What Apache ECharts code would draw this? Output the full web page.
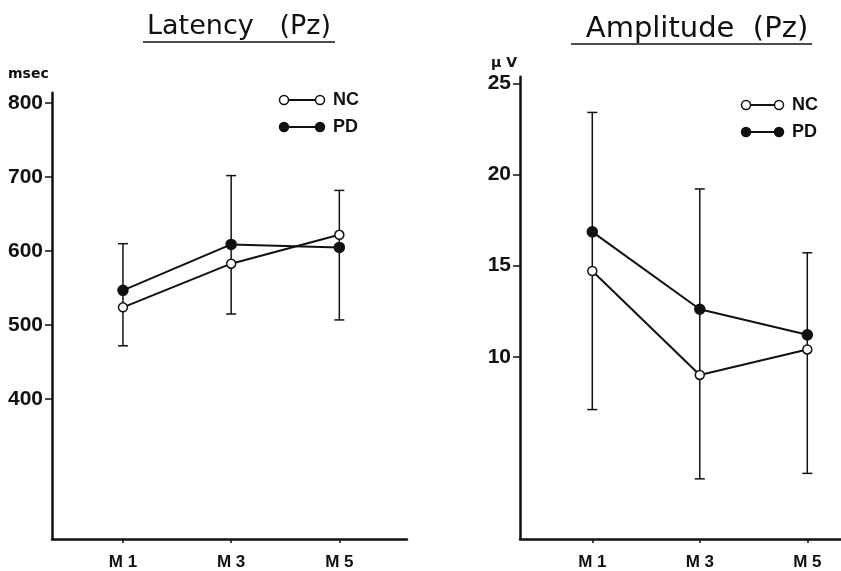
<!DOCTYPE html>
<html>
<head>
<meta charset="utf-8">
<script src="https://cdn.jsdelivr.net/npm/echarts@6/dist/echarts.min.js"></script>
<style>
  html, body { margin: 0; padding: 0; background: #fff; }
  #chart { width: 841px; height: 571px; }
</style>
</head>
<body>
<div id="chart"></div>
<script>
// months of measurement (M1, M3, M5)
var months = [1, 3, 5];

// Latency (Pz), msec
var latencyTicks = [400, 500, 600, 700, 800];
var latencyNC = [524, 583, 622];
var latencyPD = [547, 609, 605];
var latencyErrHigh = [610, 702, 682];
var latencyErrLow = [472, 515, 507];

// Amplitude (Pz), uV
var ampTicks = [10, 15, 20, 25];
var ampNC = [14.7, 9.0, 10.4];
var ampPD = [16.85, 12.6, 11.2];
var ampErrHigh = [23.4, 19.2, 15.7];
var ampErrLow = [7.1, 3.3, 3.6];

var INK = '#111';
var BOLDFONT = "'Liberation Sans', Arial, sans-serif";

function pairs(vals) {
  return months.map(function (m, i) { return [m, vals[i]]; });
}
function errData(lo, hi) {
  return months.map(function (m, i) { return [m, lo[i], hi[i]]; });
}

// vertical bar with caps
function errorBarItem(params, api) {
  var x = api.value(0);
  var top = api.coord([x, api.value(2)]);
  var bot = api.coord([x, api.value(1)]);
  var cap = 5;
  var st = { stroke: INK, lineWidth: 1.5 };
  return {
    type: 'group',
    children: [
      { type: 'line', shape: { x1: top[0], y1: top[1], x2: bot[0], y2: bot[1] }, style: st },
      { type: 'line', shape: { x1: top[0] - cap, y1: top[1], x2: top[0] + cap, y2: top[1] }, style: st },
      { type: 'line', shape: { x1: bot[0] - cap, y1: bot[1], x2: bot[0] + cap, y2: bot[1] }, style: st }
    ]
  };
}

function xAxisOf(idx, min, max) {
  return {
    type: 'value', gridIndex: idx, min: min, max: max,
    splitLine: { show: false },
    axisLine: { show: true, onZero: false, lineStyle: { color: INK, width: 2.5 } },
    axisTick: { show: true, length: 4, customValues: months, lineStyle: { color: INK, width: 1.5 } },
    axisLabel: {
      customValues: months, margin: 15,
      formatter: function (v) { return 'M ' + v; },
      fontFamily: BOLDFONT, fontWeight: 'bold', fontSize: 17, color: INK
    }
  };
}
function yAxisOf(idx, min, max, ticks) {
  return {
    type: 'value', gridIndex: idx, min: min, max: max,
    splitLine: { show: false },
    axisLine: { show: true, onZero: false, lineStyle: { color: INK, width: 2.5 } },
    axisTick: { show: true, length: 7, customValues: ticks, lineStyle: { color: INK, width: 1.5 } },
    axisLabel: {
      customValues: ticks, margin: 9,
      fontFamily: BOLDFONT, fontWeight: 'bold', fontSize: 21, color: INK
    }
  };
}

function lineSeries(idx, vals, open) {
  return {
    type: 'line', xAxisIndex: idx, yAxisIndex: idx, z: 3,
    data: pairs(vals),
    symbol: 'circle', symbolSize: open ? 9 : 10,
    lineStyle: { color: INK, width: 2 },
    itemStyle: { color: open ? '#fff' : INK, borderColor: INK, borderWidth: 1.5 },
    animation: false
  };
}
function errSeries(idx, lo, hi) {
  return {
    type: 'custom', xAxisIndex: idx, yAxisIndex: idx, z: 2,
    data: errData(lo, hi),
    encode: { x: 0, y: [1, 2] },
    renderItem: errorBarItem,
    animation: false
  };
}

function legendAt(x1, x2, yNC, yPD, textX) {
  var items = [];
  [[yNC, 'NC', '#fff'], [yPD, 'PD', INK]].forEach(function (row) {
    var y = row[0];
    items.push({ type: 'line', shape: { x1: x1, y1: y, x2: x2, y2: y }, style: { stroke: INK, lineWidth: 2 } });
    items.push({ type: 'circle', shape: { cx: x1, cy: y, r: 4.5 }, style: { fill: row[2], stroke: INK, lineWidth: 1.5 } });
    items.push({ type: 'circle', shape: { cx: x2, cy: y, r: 4.5 }, style: { fill: row[2], stroke: INK, lineWidth: 1.5 } });
    items.push({ type: 'text', x: textX, y: y, style: {
      text: row[1], fill: INK, font: 'bold 18px ' + BOLDFONT, textVerticalAlign: 'middle'
    } });
  });
  return items;
}

var myChart = echarts.init(document.getElementById('chart'));

var option = {
  backgroundColor: '#fff',
  animation: false,
  grid: [
    { left: 52, top: 92.7, width: 355, height: 446.6 },
    { left: 520, top: 76.7, right: 0, height: 465 }
  ],
  xAxis: [
    xAxisOf(0, -0.312, 6.251),
    xAxisOf(1, -0.345, 5.627)
  ],
  yAxis: [
    yAxisOf(0, 211, 814, latencyTicks),
    yAxisOf(1, 0, 25.36, ampTicks)
  ],
  series: [
    errSeries(0, latencyErrLow, latencyErrHigh),
    lineSeries(0, latencyNC, true),
    lineSeries(0, latencyPD, false),
    errSeries(1, ampErrLow, ampErrHigh),
    lineSeries(1, ampNC, true),
    lineSeries(1, ampPD, false)
  ],
  graphic: [
    { type: 'text', x: 239, y: 27, style: { text: 'Latency   (Pz)', fill: INK, font: '27px "DejaVu Sans"', textAlign: 'center', textVerticalAlign: 'middle' } },
    { type: 'line', shape: { x1: 143, y1: 42, x2: 335, y2: 42 }, style: { stroke: INK, lineWidth: 1.5 } },
    { type: 'text', x: 697, y: 29, style: { text: 'Amplitude  (Pz)', fill: INK, font: '29px "DejaVu Sans"', textAlign: 'center', textVerticalAlign: 'middle' } },
    { type: 'line', shape: { x1: 571, y1: 44, x2: 812, y2: 44 }, style: { stroke: INK, lineWidth: 1.5 } },
    { type: 'text', x: 8, y: 74, style: { text: 'msec', fill: INK, font: 'bold 14px "DejaVu Sans"', textVerticalAlign: 'middle' } },
    { type: 'text', x: 491, y: 63, style: { text: 'μ V', fill: INK, font: 'bold 14px "DejaVu Sans"', textVerticalAlign: 'middle' } }
  ]
    .concat(legendAt(284, 320, 100, 127, 333))
    .concat(legendAt(746, 779, 105, 132, 792))
};

myChart.setOption(option);
</script>
</body>
</html>
